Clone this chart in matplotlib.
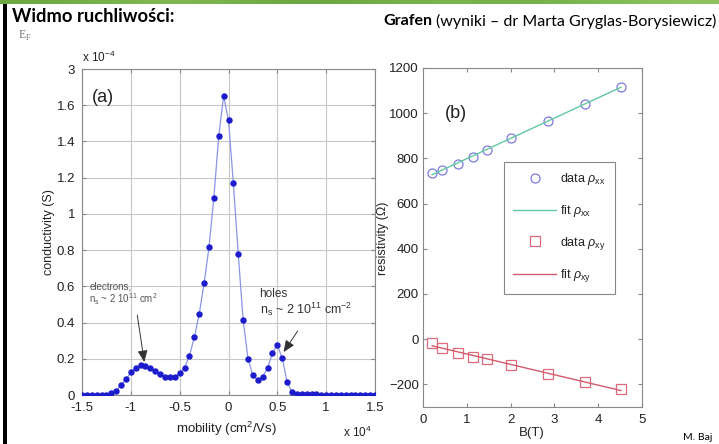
import numpy as np
import matplotlib
matplotlib.use("Agg")
import matplotlib.pyplot as plt
from matplotlib.patches import Rectangle

plt.rcParams["font.family"] = ["Liberation Sans", "DejaVu Sans"]
plt.rcParams["mathtext.fontset"] = "custom"
plt.rcParams["mathtext.rm"] = "Liberation Sans"
plt.rcParams["mathtext.it"] = "Liberation Sans:italic"

# ---- panel (a): mobility spectrum -------------------------------------
mobility = np.round(np.arange(-1.5, 1.5001, 0.05), 2)   # x 10^4 cm^2/Vs
conductivity = [                                          # x 10^-4 S
    0.0, 0.0, 0.0, 0.0, 0.0, 0.001, 0.009, 0.024, 0.055, 0.086,
    0.125, 0.150, 0.165, 0.162, 0.150, 0.132, 0.114, 0.100, 0.100, 0.100,
    0.120, 0.150, 0.217, 0.318, 0.447, 0.616, 0.815, 1.089, 1.429, 1.651,
    1.516, 1.168, 0.776, 0.414, 0.199, 0.108, 0.081, 0.100, 0.150, 0.230,
    0.276, 0.202, 0.074, 0.015, 0.004, 0.003, 0.003, 0.003, 0.003, 0.002,
    0.001, 0.001, 0.001, 0.0, 0.0, 0.0, 0.0, 0.0, 0.0, 0.0, 0.0,
]
a_xticks = [-1.5, -1, -0.5, 0, 0.5, 1, 1.5]
a_xticklabels = ["-1.5", "-1", "-0.5", "0", "0.5", "1", "1.5"]
a_yticks = [0, 0.2, 0.4, 0.6, 0.8, 1.0, 1.2, 1.4, 1.6, 1.8]
a_yticklabels = ["0", "0.2", "0.4", "0.6", "0.8", "1", "1.2", "1.4", "1.6", "3"]

# ---- panel (b): magnetoresistance --------------------------------------
field_B = [0.21, 0.44, 0.80, 1.14, 1.47, 2.01, 2.86, 3.70, 4.52]
rho_xx = [736, 750, 777, 805, 839, 889, 967, 1042, 1116]
rho_xy = [-19, -39, -59, -77, -89, -116, -153, -190, -222]
b_xticks = [0, 1, 2, 3, 4, 5]
b_yticks = [-200, 0, 200, 400, 600, 800, 1000, 1200]

W, H = 719, 444
fig = plt.figure(figsize=(W / 100, H / 100), dpi=100)
fig.patch.set_facecolor("white")


def fx(px):
    return px / W


def fy(py):
    return 1 - py / H


# slide decorations: green top strip and black left rule
greens = np.array([[0.42, 0.66, 0.26], [0.55, 0.75, 0.33], [0.38, 0.62, 0.24],
                   [0.50, 0.72, 0.30], [0.44, 0.68, 0.27], [0.56, 0.77, 0.36]])
strip = np.repeat(greens[np.newaxis, :, :], 2, axis=0)
ax_strip = fig.add_axes([0, fy(4.5), 1, 4.5 / H])
ax_strip.imshow(strip, aspect="auto", interpolation="bicubic")
ax_strip.axis("off")
fig.patches.append(Rectangle((fx(3), 0), fx(4), fy(4.5), transform=fig.transFigure,
                             facecolor="black", edgecolor="none"))

# slide headings
fig.text(fx(12), fy(16), "Widmo ruchliwości:", fontsize=13.2, fontweight="bold",
         family=["Lato", "DejaVu Sans"], va="center", ha="left", color="black")
t_bold = fig.text(fx(383), fy(21), "Grafen", fontsize=11.5, fontweight="bold",
                  family=["Lato", "DejaVu Sans"], va="center", ha="left")
fig.canvas.draw()
bb = t_bold.get_window_extent(fig.canvas.get_renderer())
fig.text(bb.x1 / W + fx(4), fy(21), "(wyniki – dr Marta Gryglas-Borysiewicz)",
         fontsize=11.5, family=["Lato", "DejaVu Sans"], va="center", ha="left")
fig.text(fx(18), fy(36), r"E$_\mathregular{F}$", fontsize=8.5, color="#777777",
         family=["Liberation Serif", "DejaVu Serif"], va="center", ha="left")
fig.text(fx(683), fy(437), "M. Baj", fontsize=7.5, family=["Lato", "DejaVu Sans"],
         va="center", ha="left")

tick_color = "#222222"
spine_color = "#888888"

# ---- panel (a) ----------------------------------------------------------
ax1 = fig.add_axes([fx(82), fy(395), fx(375) - fx(82), fy(69) - fy(395)])
ax1.plot(mobility, conductivity, "-", color="#8a96e6", lw=0.9, zorder=2)
ax1.plot(mobility, conductivity, "o", color="#1c1ccc", ms=3.6, mec="#1c1ccc", zorder=3)
ax1.set_xlim(-1.5, 1.5)
ax1.set_ylim(0, 1.8)
ax1.set_xticks(a_xticks)
ax1.set_xticklabels(a_xticklabels)
ax1.set_yticks(a_yticks)
ax1.set_yticklabels(a_yticklabels)
ax1.grid(True, color="#c8c8c8", lw=0.8)
ax1.set_axisbelow(True)
ax1.tick_params(direction="in", length=3, color=spine_color, labelsize=9.5,
                labelcolor=tick_color, top=True, right=True)
ax1.tick_params(axis="x", pad=5)
ax1.tick_params(axis="y", pad=5)
for s in ax1.spines.values():
    s.set_color(spine_color)
ax1.text(-1.4, 1.64, "(a)", fontsize=13, color="#222222", va="center", ha="left")

ax1.annotate("", xy=(-0.862, 0.182), xytext=(-0.934, 0.441),
             arrowprops=dict(arrowstyle="-|>,head_length=0.7,head_width=0.3",
                             color="#333333", lw=0.7, shrinkA=0, shrinkB=0))
ax1.text(-1.427, 0.60, "electrons,", fontsize=7, color="#555555", va="center", ha="left")
ax1.text(-1.427, 0.53, r"n$_\mathregular{s}$ ~ 2 10$^{11}$ cm$^{2}$", fontsize=7,
         color="#555555", va="center", ha="left")
ax1.annotate("", xy=(0.564, 0.237), xytext=(0.708, 0.353),
             arrowprops=dict(arrowstyle="-|>,head_length=0.7,head_width=0.3",
                             color="#333333", lw=0.7, shrinkA=0, shrinkB=0))
ax1.text(0.318, 0.557, "holes", fontsize=8.5, color="#333333", va="center", ha="left")
ax1.text(0.318, 0.475, r"n$_\mathregular{s}$ ~ 2 10$^{11}$ cm$^{-2}$", fontsize=9,
         color="#333333", va="center", ha="left")

fig.text(fx(82), fy(57), r"x 10$^{-4}$", fontsize=8.5, color=tick_color, va="center", ha="left")
fig.text(fx(343), fy(432), r"x 10$^{4}$", fontsize=8.5, color=tick_color, va="center", ha="left")
fig.text(fx(227), fy(429), r"mobility (cm$^2$/Vs)", fontsize=9.5, color=tick_color,
         va="center", ha="center")
fig.text(fx(49), fy(232), "conductivity (S)", fontsize=9, color=tick_color,
         rotation=90, va="center", ha="center")

# ---- panel (b) ----------------------------------------------------------
ax2 = fig.add_axes([fx(423), fy(407), fx(642) - fx(423), fy(68) - fy(407)])
fit_xx = np.polyfit(field_B, rho_xx, 1)
fit_xy = np.polyfit(field_B, rho_xy, 1)
b_line = np.array([min(field_B), max(field_B)])
ax2.plot(field_B, rho_xx, "o", ms=6.5, mfc="none", mec="#7b7bdc", mew=0.9,
         label=r"data $\rho_{\mathregular{xx}}$")
ax2.plot(b_line, np.polyval(fit_xx, b_line), "-", color="#62c9a2", lw=1.0,
         label=r"fit $\rho_{\mathregular{xx}}$")
ax2.plot(field_B, rho_xy, "s", ms=6.5, mfc="none", mec="#de6b7c", mew=0.9,
         label=r"data $\rho_{\mathregular{xy}}$")
ax2.plot(b_line, np.polyval(fit_xy, b_line), "-", color="#d45a6c", lw=1.0,
         label=r"fit $\rho_{\mathregular{xy}}$")
ax2.set_xlim(0, 5)
ax2.set_ylim(-300, 1200)
ax2.set_xticks(b_xticks)
ax2.set_yticks(b_yticks)
ax2.tick_params(direction="in", length=3, color=spine_color, labelsize=9.5,
                labelcolor=tick_color, top=True, right=True)
ax2.tick_params(axis="x", pad=5)
ax2.tick_params(axis="y", pad=3)
for s in ax2.spines.values():
    s.set_color(spine_color)
ax2.text(0.5, 1000, "(b)", fontsize=13, color="#222222", va="center", ha="left")
leg = ax2.legend(loc="upper left", bbox_to_anchor=(0.37, 0.723), borderaxespad=0,
                 fontsize=9, labelspacing=1.25, handlelength=3.4, handletextpad=0.35,
                 borderpad=0.75, fancybox=False, framealpha=1, edgecolor="#888888")
leg.get_frame().set_linewidth(0.8)
for t in leg.get_texts():
    t.set_color("#222222")

fig.text(fx(383), fy(238), "resistivity (Ω)", fontsize=9, color=tick_color,
         rotation=90, va="center", ha="center")
fig.text(fx(532), fy(433), "B(T)", fontsize=9.5, color=tick_color, va="center", ha="center")

fig.savefig("out.png", dpi=100, facecolor="white")
